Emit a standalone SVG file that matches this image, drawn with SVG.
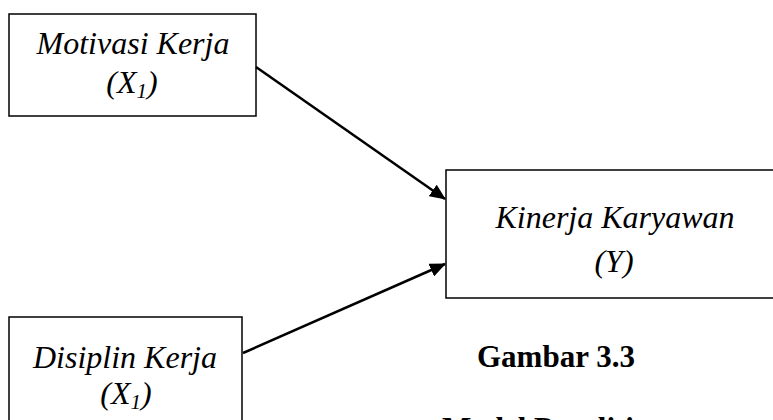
<svg xmlns="http://www.w3.org/2000/svg" width="773" height="420" viewBox="0 0 773 420">
<style>
.box{fill:#fff;stroke:#000;stroke-width:1.5}
.conn{stroke:#000;stroke-width:2.5;fill:none}
</style>
<defs>
<marker id="ah" markerWidth="16" markerHeight="14" refX="15" refY="7" orient="auto" markerUnits="userSpaceOnUse">
<path d="M0,0 L16,7 L0,14 Z" fill="#000"/>
</marker>
</defs>
<rect width="773" height="420" fill="#fff"/>
<g id="motivasi" font-family="Liberation Serif, Times New Roman, serif" font-style="italic" font-size="32" text-anchor="middle" fill="#000">
<rect class="box" x="9" y="14" width="247" height="102"/>
<text x="133" y="54">Motivasi Kerja</text>
<text x="132" y="93">(X<tspan font-size="21" dy="5">1</tspan><tspan dy="-5">)</tspan></text>
</g>
<g id="kinerja" font-family="Liberation Serif, Times New Roman, serif" font-style="italic" font-size="32" text-anchor="middle" fill="#000">
<rect class="box" x="446" y="170" width="340" height="128"/>
<text x="615" y="228">Kinerja Karyawan</text>
<text x="614" y="272">(Y)</text>
</g>
<g id="disiplin" font-family="Liberation Serif, Times New Roman, serif" font-style="italic" font-size="32" text-anchor="middle" fill="#000">
<rect class="box" x="9" y="317" width="233" height="120"/>
<text x="125" y="368">Disiplin Kerja</text>
<text x="126" y="404">(X<tspan font-size="21" dy="5">1</tspan><tspan dy="-5">)</tspan></text>
</g>
<g id="connectors">
<line class="conn" x1="256" y1="67" x2="445" y2="199" marker-end="url(#ah)"/>
<line class="conn" x1="243" y1="353" x2="445" y2="264" marker-end="url(#ah)"/>
</g>
<g id="caption" font-family="Liberation Serif, Times New Roman, serif" font-weight="bold" font-size="31" fill="#000">
<text x="477" y="367">Gambar 3.3</text>
<text x="442" y="439">Model Penelitian</text>
</g>
</svg>
